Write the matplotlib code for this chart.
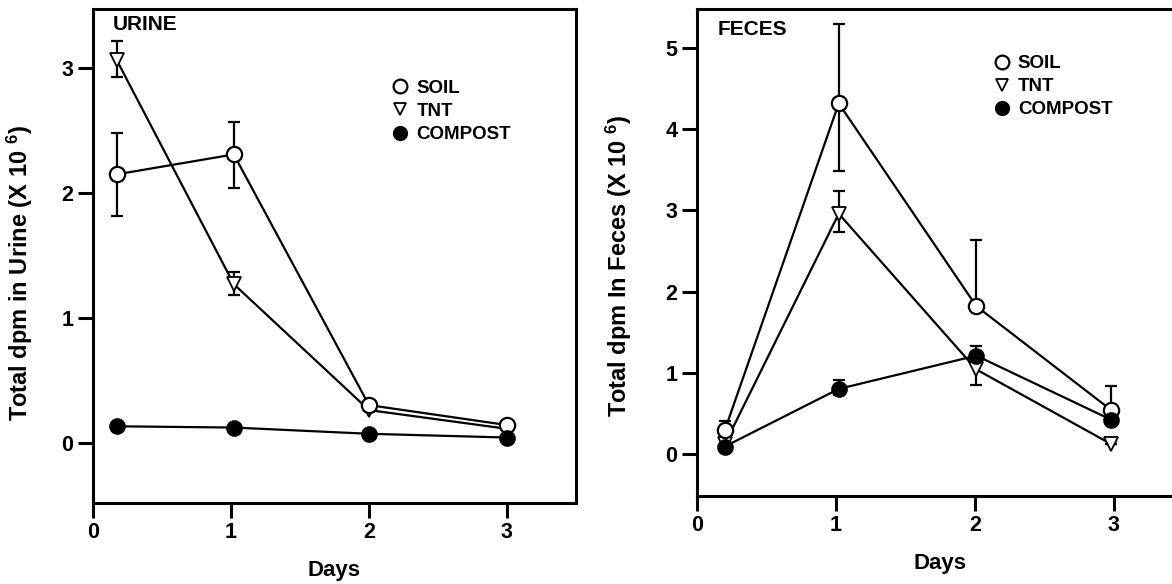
import matplotlib
matplotlib.use("Agg")
import matplotlib.pyplot as plt
from matplotlib.lines import Line2D

plt.rcParams['font.family'] = ['Liberation Sans', 'DejaVu Sans']
plt.rcParams['font.weight'] = 'bold'
plt.rcParams['mathtext.fontset'] = 'custom'
plt.rcParams['mathtext.rm'] = 'Liberation Sans:bold'
plt.rcParams['mathtext.it'] = 'Liberation Sans:bold'
plt.rcParams['mathtext.bf'] = 'Liberation Sans:bold'

series = ["SOIL", "TNT", "COMPOST"]

# URINE panel
urine_days = [0.17, 1.02, 2.0, 3.0]
urine_soil = [2.15, 2.31, 0.30, 0.14]
urine_soil_lo = [1.82, 2.04, 0.30, 0.14]
urine_soil_hi = [2.48, 2.57, 0.30, 0.14]
urine_tnt = [3.07, 1.27, 0.26, 0.11]
urine_tnt_lo = [2.93, 1.18, 0.26, 0.11]
urine_tnt_hi = [3.22, 1.37, 0.26, 0.11]
urine_compost = [0.13, 0.12, 0.07, 0.04]

# FECES panel
feces_days = [0.2, 1.02, 2.01, 2.98]
feces_soil = [0.29, 4.32, 1.82, 0.54]
feces_soil_lo = [0.29, 3.49, 1.82, 0.54]
feces_soil_hi = [0.41, 5.30, 2.64, 0.83]
feces_tnt = [0.12, 2.96, 1.04, 0.12]
feces_tnt_lo = [0.12, 2.74, 0.85, 0.12]
feces_tnt_hi = [0.12, 3.24, 1.25, 0.12]
feces_compost = [0.09, 0.80, 1.21, 0.42]
feces_compost_lo = [0.09, 0.72, 1.21, 0.42]
feces_compost_hi = [0.09, 0.91, 1.33, 0.42]

yticks_urine = [0, 1, 2, 3]
yticks_feces = [0, 1, 2, 3, 4, 5]
xticks = [0, 1, 2, 3]

fig = plt.figure(figsize=(11.72, 5.84), dpi=100)
ax1 = fig.add_axes([0.0794, 0.1387, 0.412, 0.8467])
ax2 = fig.add_axes([0.5947, 0.1507, 0.415, 0.8334])

lw = 1.6
styles = {
    "SOIL": dict(marker='o', ms=11, mfc='white', mec='black', mew=1.6),
    "TNT": dict(marker='v', ms=10, mfc='white', mec='black', mew=1.3),
    "COMPOST": dict(marker='o', ms=10.5, mfc='black', mec='black', mew=1.5),
}

def plot_series(ax, x, y, lo=None, hi=None, name="SOIL", z=3):
    if lo is not None:
        err = [[yy - l for yy, l in zip(y, lo)], [h - yy for yy, h in zip(y, hi)]]
        ax.errorbar(x, y, yerr=err, fmt='none', ecolor='black', elinewidth=1.6,
                    capsize=4, capthick=1.6, zorder=z - 1)
    ax.plot(x, y, color='black', lw=lw, zorder=z, **styles[name])

plot_series(ax1, urine_days, urine_soil, urine_soil_lo, urine_soil_hi, "SOIL", 4)
plot_series(ax1, urine_days, urine_tnt, urine_tnt_lo, urine_tnt_hi, "TNT", 3)
plot_series(ax1, urine_days, urine_compost, None, None, "COMPOST", 5)

plot_series(ax2, feces_days, feces_soil, feces_soil_lo, feces_soil_hi, "SOIL", 4)
plot_series(ax2, feces_days, feces_tnt, feces_tnt_lo, feces_tnt_hi, "TNT", 3)
plot_series(ax2, feces_days, feces_compost, feces_compost_lo, feces_compost_hi, "COMPOST", 5)

for ax, yt, ylim, title, tpos in [
    (ax1, yticks_urine, (-0.485, 3.48), "URINE", (0.041, 0.968)),
    (ax2, yticks_feces, (-0.52, 5.48), "FECES", (0.043, 0.958)),
]:
    ax.set_xlim(0, 3.5)
    ax.set_ylim(*ylim)
    ax.set_xticks(xticks)
    ax.set_yticks(yt)
    ax.tick_params(direction='out', length=11, width=2.2, labelsize=15.5, pad=3)
    for lab in ax.get_xticklabels() + ax.get_yticklabels():
        lab.set_fontweight('bold')
    for s in ax.spines.values():
        s.set_linewidth(2.2)
    ax.set_xlabel("Days", fontsize=16, fontweight='bold', labelpad=12)
    ax.text(tpos[0], tpos[1], title, transform=ax.transAxes, fontsize=15,
            fontweight='bold', ha='left', va='center')

ax1.set_ylabel(r"Total dpm in Urine (X 10 $^{6}$)", fontsize=17, fontweight='bold')
ax2.set_ylabel(r"Total dpm In Feces (X 10 $^{6}$)", fontsize=17, fontweight='bold')
ax1.yaxis.set_label_coords(-0.12, 0.465)
ax2.yaxis.set_label_coords(-0.1295, 0.473)

handles = [Line2D([], [], linestyle='none', **{**styles[n], 'ms': styles[n]['ms'] * 0.9}) for n in series]
legend_kw = dict(loc='center left', frameon=False, handlelength=0.7, handletextpad=0.5,
                 labelspacing=0.32, borderpad=0, borderaxespad=0,
                 prop={'weight': 'bold', 'size': 13.5})
ax1.legend(handles, series, bbox_to_anchor=(0.623, 0.792), **legend_kw)
ax2.legend(handles, series, bbox_to_anchor=(0.6136, 0.841), **legend_kw)

fig.savefig("out.png", dpi=100)
